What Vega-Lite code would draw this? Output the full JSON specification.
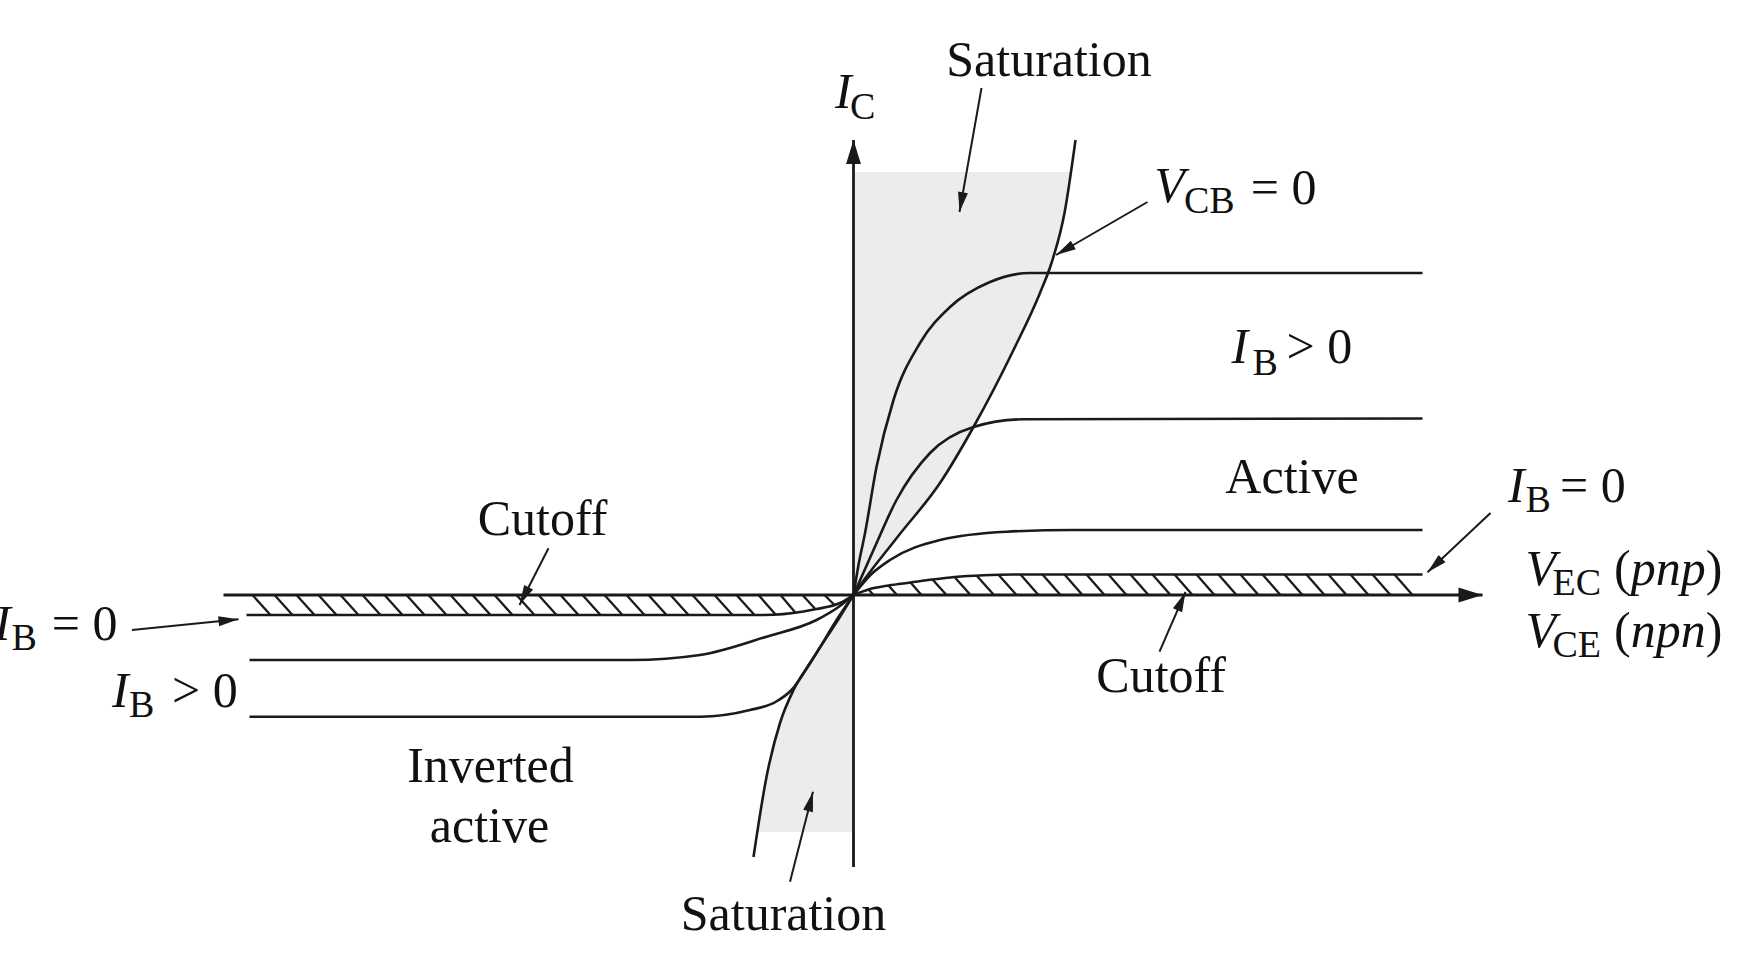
{
  "$schema": "https://vega.github.io/schema/vega-lite/v6.json",
  "width": 1754,
  "height": 962,
  "autosize": {"type": "none"},
  "padding": 0,
  "background": "white",
  "config": {"view": {"stroke": null}},
  "datasets": {
    "curves": [
      {"curve": "top", "x": 0, "y": 0}, {"curve": "top", "x": 0.05, "y": 0.3}, {"curve": "top", "x": 0.115, "y": 0.617}, {"curve": "top", "x": 0.23, "y": 1.28}, {"curve": "top", "x": 0.4, "y": 1.95}, {"curve": "top", "x": 0.665, "y": 2.52}, {"curve": "top", "x": 0.965, "y": 2.88}, {"curve": "top", "x": 1.365, "y": 3.13}, {"curve": "top", "x": 1.765, "y": 3.22}, {"curve": "top", "x": 5.69, "y": 3.22},
      {"curve": "mid", "x": 0, "y": 0}, {"curve": "mid", "x": 0.2, "y": 0.45}, {"curve": "mid", "x": 0.43, "y": 0.95}, {"curve": "mid", "x": 0.765, "y": 1.42}, {"curve": "mid", "x": 1.2, "y": 1.68}, {"curve": "mid", "x": 1.7, "y": 1.757}, {"curve": "mid", "x": 5.69, "y": 1.765},
      {"curve": "low", "x": 0, "y": 0}, {"curve": "low", "x": 0.17, "y": 0.2}, {"curve": "low", "x": 0.365, "y": 0.35}, {"curve": "low", "x": 0.865, "y": 0.55}, {"curve": "low", "x": 1.53, "y": 0.633}, {"curve": "low", "x": 2.2, "y": 0.65}, {"curve": "low", "x": 5.69, "y": 0.65},
      {"curve": "ib0r", "x": 0, "y": 0}, {"curve": "ib0r", "x": 0.15, "y": 0.055}, {"curve": "ib0r", "x": 0.35, "y": 0.095}, {"curve": "ib0r", "x": 0.57, "y": 0.125}, {"curve": "ib0r", "x": 0.79, "y": 0.155}, {"curve": "ib0r", "x": 1.01, "y": 0.18}, {"curve": "ib0r", "x": 1.3, "y": 0.198}, {"curve": "ib0r", "x": 1.6, "y": 0.205}, {"curve": "ib0r", "x": 5.69, "y": 0.205},
      {"curve": "sat", "x": -1.0, "y": -2.62}, {"curve": "sat", "x": -0.87, "y": -1.82}, {"curve": "sat", "x": -0.735, "y": -1.28}, {"curve": "sat", "x": -0.6, "y": -0.95}, {"curve": "sat", "x": -0.435, "y": -0.68}, {"curve": "sat", "x": -0.135, "y": -0.217}, {"curve": "sat", "x": 0, "y": 0}, {"curve": "sat", "x": 0.44, "y": 0.58}, {"curve": "sat", "x": 0.865, "y": 1.12}, {"curve": "sat", "x": 1.2, "y": 1.68}, {"curve": "sat", "x": 1.6, "y": 2.45}, {"curve": "sat", "x": 1.865, "y": 3.02}, {"curve": "sat", "x": 1.98, "y": 3.32}, {"curve": "sat", "x": 2.11, "y": 3.82}, {"curve": "sat", "x": 2.22, "y": 4.55},
      {"curve": "ib0l", "x": -6.07, "y": -0.2}, {"curve": "ib0l", "x": -0.9, "y": -0.2}, {"curve": "ib0l", "x": -0.5, "y": -0.165}, {"curve": "ib0l", "x": -0.37, "y": -0.14}, {"curve": "ib0l", "x": -0.135, "y": -0.08}, {"curve": "ib0l", "x": 0, "y": 0},
      {"curve": "upL", "x": -6.04, "y": -0.65}, {"curve": "upL", "x": -2.22, "y": -0.65}, {"curve": "upL", "x": -1.535, "y": -0.6}, {"curve": "upL", "x": -0.87, "y": -0.417}, {"curve": "upL", "x": -0.37, "y": -0.25}, {"curve": "upL", "x": -0.15, "y": -0.12}, {"curve": "upL", "x": 0, "y": 0},
      {"curve": "lowL", "x": -6.04, "y": -1.217}, {"curve": "lowL", "x": -1.535, "y": -1.217}, {"curve": "lowL", "x": -1.035, "y": -1.15}, {"curve": "lowL", "x": -0.78, "y": -1.07}, {"curve": "lowL", "x": -0.62, "y": -0.95}, {"curve": "lowL", "x": -0.42, "y": -0.66}, {"curve": "lowL", "x": -0.15, "y": -0.22}, {"curve": "lowL", "x": 0, "y": 0}
    ],
    "shade": [
      {"region": "q1", "y": 0, "x": 0}, {"region": "q1", "y": 0.58, "x": 0.44}, {"region": "q1", "y": 1.12, "x": 0.865}, {"region": "q1", "y": 1.68, "x": 1.2}, {"region": "q1", "y": 2.45, "x": 1.6}, {"region": "q1", "y": 3.02, "x": 1.865}, {"region": "q1", "y": 3.32, "x": 1.98}, {"region": "q1", "y": 3.82, "x": 2.11}, {"region": "q1", "y": 4.23, "x": 2.17},
      {"region": "q3", "y": 0, "x": 0}, {"region": "q3", "y": -0.217, "x": -0.135}, {"region": "q3", "y": -0.68, "x": -0.435}, {"region": "q3", "y": -0.95, "x": -0.6}, {"region": "q3", "y": -1.28, "x": -0.735}, {"region": "q3", "y": -1.82, "x": -0.87}, {"region": "q3", "y": -2.37, "x": -0.965}
    ],
    "hatch": [
      {"x": 0.15, "y": 0.055, "x2": 0.2, "y2": 0}, {"x": 0.35, "y": 0.095, "x2": 0.435, "y2": 0}, {"x": 0.57, "y": 0.125, "x2": 0.68, "y2": 0}, {"x": 0.79, "y": 0.155, "x2": 0.93, "y2": 0}, {"x": 1.01, "y": 0.18, "x2": 1.17, "y2": 0}, {"x": 1.23, "y": 0.195, "x2": 1.405, "y2": 0},
      {"x": 1.45, "y": 0.203, "x2": 1.63, "y2": 0}, {"x": 1.67, "y": 0.205, "x2": 1.85, "y2": 0}, {"x": 1.89, "y": 0.205, "x2": 2.07, "y2": 0}, {"x": 2.11, "y": 0.205, "x2": 2.29, "y2": 0}, {"x": 2.33, "y": 0.205, "x2": 2.51, "y2": 0}, {"x": 2.55, "y": 0.205, "x2": 2.73, "y2": 0}, {"x": 2.77, "y": 0.205, "x2": 2.95, "y2": 0}, {"x": 2.99, "y": 0.205, "x2": 3.17, "y2": 0}, {"x": 3.21, "y": 0.205, "x2": 3.39, "y2": 0}, {"x": 3.43, "y": 0.205, "x2": 3.61, "y2": 0}, {"x": 3.65, "y": 0.205, "x2": 3.83, "y2": 0}, {"x": 3.87, "y": 0.205, "x2": 4.05, "y2": 0}, {"x": 4.09, "y": 0.205, "x2": 4.27, "y2": 0}, {"x": 4.31, "y": 0.205, "x2": 4.49, "y2": 0}, {"x": 4.53, "y": 0.205, "x2": 4.71, "y2": 0}, {"x": 4.75, "y": 0.205, "x2": 4.93, "y2": 0}, {"x": 4.97, "y": 0.205, "x2": 5.15, "y2": 0}, {"x": 5.19, "y": 0.205, "x2": 5.37, "y2": 0}, {"x": 5.41, "y": 0.205, "x2": 5.59, "y2": 0},
      {"x": -6.01, "y": 0, "x2": -5.83, "y2": -0.2}, {"x": -5.79, "y": 0, "x2": -5.61, "y2": -0.2}, {"x": -5.57, "y": 0, "x2": -5.39, "y2": -0.2}, {"x": -5.35, "y": 0, "x2": -5.17, "y2": -0.2}, {"x": -5.13, "y": 0, "x2": -4.95, "y2": -0.2}, {"x": -4.91, "y": 0, "x2": -4.73, "y2": -0.2}, {"x": -4.69, "y": 0, "x2": -4.51, "y2": -0.2}, {"x": -4.47, "y": 0, "x2": -4.29, "y2": -0.2}, {"x": -4.25, "y": 0, "x2": -4.07, "y2": -0.2}, {"x": -4.03, "y": 0, "x2": -3.85, "y2": -0.2}, {"x": -3.81, "y": 0, "x2": -3.63, "y2": -0.2}, {"x": -3.59, "y": 0, "x2": -3.41, "y2": -0.2}, {"x": -3.37, "y": 0, "x2": -3.19, "y2": -0.2}, {"x": -3.15, "y": 0, "x2": -2.97, "y2": -0.2}, {"x": -2.93, "y": 0, "x2": -2.75, "y2": -0.2}, {"x": -2.71, "y": 0, "x2": -2.53, "y2": -0.2}, {"x": -2.49, "y": 0, "x2": -2.31, "y2": -0.2}, {"x": -2.27, "y": 0, "x2": -2.09, "y2": -0.2}, {"x": -2.05, "y": 0, "x2": -1.87, "y2": -0.2}, {"x": -1.83, "y": 0, "x2": -1.65, "y2": -0.2}, {"x": -1.61, "y": 0, "x2": -1.43, "y2": -0.2}, {"x": -1.39, "y": 0, "x2": -1.21, "y2": -0.2}, {"x": -1.17, "y": 0, "x2": -0.99, "y2": -0.2},
      {"x": -0.95, "y": 0, "x2": -0.78, "y2": -0.195}, {"x": -0.73, "y": 0, "x2": -0.58, "y2": -0.178}, {"x": -0.51, "y": 0, "x2": -0.38, "y2": -0.142}, {"x": -0.29, "y": 0, "x2": -0.19, "y2": -0.1}
    ],
    "axes": [
      {"x": -6.3, "y": 0, "x2": 6.29, "y2": 0},
      {"x": 0, "y": -2.72, "x2": 0, "y2": 4.55}
    ],
    "pointers": [
      {"x": 1.28, "y": 5.07, "x2": 1.06, "y2": 3.83},
      {"x": 2.94, "y": 3.93, "x2": 2.025, "y2": 3.4},
      {"x": 6.37, "y": 0.82, "x2": 5.74, "y2": 0.227},
      {"x": 3.06, "y": -0.567, "x2": 3.32, "y2": 0.03},
      {"x": -3.05, "y": 0.467, "x2": -3.34, "y2": -0.1},
      {"x": -7.215, "y": -0.35, "x2": -6.15, "y2": -0.243},
      {"x": -0.635, "y": -2.867, "x2": -0.405, "y2": -1.967}
    ],
    "labels": [
      {"text": "Saturation", "x": 1.955, "y": 5.19},
      {"text": "Active", "x": 4.385, "y": 1.017},
      {"text": "Cutoff", "x": -3.11, "y": 0.6},
      {"text": "Cutoff", "x": 3.076, "y": -0.974},
      {"text": "Inverted", "x": -3.63, "y": -1.867},
      {"text": "active", "x": -3.64, "y": -2.467},
      {"text": "Saturation", "x": -0.7, "y": -3.35}
    ],
    "italics": [
      {"text": "I", "x": -0.185, "y": 4.867},
      {"text": "V", "x": 3.008, "y": 3.933},
      {"text": "I", "x": 3.78, "y": 2.317},
      {"text": "I", "x": 6.545, "y": 0.933},
      {"text": "V", "x": 6.72, "y": 0.1},
      {"text": "V", "x": 6.72, "y": -0.517},
      {"text": "I", "x": -8.595, "y": -0.45},
      {"text": "I", "x": -7.415, "y": -1.117},
      {"text": "pnp", "x": 7.772, "y": 0.1},
      {"text": "npn", "x": 7.772, "y": -0.517}
    ],
    "subs": [
      {"text": "C", "x": -0.035, "y": 4.757},
      {"text": "CB", "x": 3.305, "y": 3.817},
      {"text": "B", "x": 3.99, "y": 2.2},
      {"text": "B", "x": 6.72, "y": 0.833},
      {"text": "EC", "x": 6.99, "y": 0.0},
      {"text": "CE", "x": 6.99, "y": -0.617},
      {"text": "B", "x": -8.42, "y": -0.55},
      {"text": "B", "x": -7.245, "y": -1.217}
    ],
    "rels": [
      {"text": "= 0", "x": 3.973, "y": 3.91},
      {"text": "> 0", "x": 4.33, "y": 2.317},
      {"text": "= 0", "x": 7.065, "y": 0.933},
      {"text": "= 0", "x": -8.018, "y": -0.45},
      {"text": "> 0", "x": -6.815, "y": -1.117},
      {"text": "(", "x": 7.605, "y": 0.1},
      {"text": ")", "x": 8.522, "y": 0.1},
      {"text": "(", "x": 7.605, "y": -0.517},
      {"text": ")", "x": 8.522, "y": -0.517}
    ]
  },
  "layer": [
    {
      "data": {"name": "shade"},
      "mark": {"type": "area", "orient": "horizontal", "interpolate": "monotone", "color": "#ececec"},
      "encoding": {
        "y": {"field": "y", "type": "quantitative", "scale": {"domain": [-3.67, 5.95], "nice": false, "zero": false}, "axis": null},
        "x": {"field": "x", "type": "quantitative", "stack": null, "scale": {"domain": [-8.535, 9.005], "nice": false, "zero": false}, "axis": null},
        "x2": {"datum": 0},
        "detail": {"field": "region"}
      }
    },
    {
      "data": {"name": "hatch"},
      "mark": {"type": "rule", "color": "#1a1a1a", "strokeWidth": 2.3},
      "encoding": {
        "x": {"field": "x", "type": "quantitative", "scale": {"domain": [-8.535, 9.005], "nice": false, "zero": false}, "axis": null},
        "y": {"field": "y", "type": "quantitative", "scale": {"domain": [-3.67, 5.95], "nice": false, "zero": false}, "axis": null},
        "x2": {"field": "x2"},
        "y2": {"field": "y2"}
      }
    },
    {
      "data": {"name": "curves"},
      "mark": {"type": "line", "interpolate": "monotone", "color": "#1a1a1a", "strokeWidth": 2.6},
      "encoding": {
        "x": {"field": "x", "type": "quantitative", "scale": {"domain": [-8.535, 9.005], "nice": false, "zero": false}, "axis": null},
        "y": {"field": "y", "type": "quantitative", "scale": {"domain": [-3.67, 5.95], "nice": false, "zero": false}, "axis": null},
        "detail": {"field": "curve"}
      }
    },
    {
      "data": {"name": "axes"},
      "mark": {"type": "rule", "color": "#1a1a1a", "strokeWidth": 2.8},
      "encoding": {
        "x": {"field": "x", "type": "quantitative", "scale": {"domain": [-8.535, 9.005], "nice": false, "zero": false}, "axis": null},
        "y": {"field": "y", "type": "quantitative", "scale": {"domain": [-3.67, 5.95], "nice": false, "zero": false}, "axis": null},
        "x2": {"field": "x2"},
        "y2": {"field": "y2"}
      }
    },
    {
      "data": {"name": "axes"},
      "transform": [{"calculate": "atan2(datum.x2 - datum.x, datum.y2 - datum.y) * 180 / PI", "as": "angle"}],
      "mark": {"type": "point", "shape": "M0,0L0.62,2L-0.62,2Z", "filled": true, "size": 576, "color": "#1a1a1a", "opacity": 1, "strokeWidth": 0},
      "encoding": {
        "x": {"field": "x2", "type": "quantitative", "scale": {"domain": [-8.535, 9.005], "nice": false, "zero": false}, "axis": null},
        "y": {"field": "y2", "type": "quantitative", "scale": {"domain": [-3.67, 5.95], "nice": false, "zero": false}, "axis": null},
        "angle": {"field": "angle", "type": "quantitative", "scale": null}
      }
    },
    {
      "data": {"name": "pointers"},
      "mark": {"type": "rule", "color": "#1a1a1a", "strokeWidth": 2},
      "encoding": {
        "x": {"field": "x", "type": "quantitative", "scale": {"domain": [-8.535, 9.005], "nice": false, "zero": false}, "axis": null},
        "y": {"field": "y", "type": "quantitative", "scale": {"domain": [-3.67, 5.95], "nice": false, "zero": false}, "axis": null},
        "x2": {"field": "x2"},
        "y2": {"field": "y2"}
      }
    },
    {
      "data": {"name": "pointers"},
      "transform": [{"calculate": "atan2(datum.x2 - datum.x, datum.y2 - datum.y) * 180 / PI", "as": "angle"}],
      "mark": {"type": "point", "shape": "M0,0L0.5,2L-0.5,2Z", "filled": true, "size": 400, "color": "#1a1a1a", "opacity": 1, "strokeWidth": 0},
      "encoding": {
        "x": {"field": "x2", "type": "quantitative", "scale": {"domain": [-8.535, 9.005], "nice": false, "zero": false}, "axis": null},
        "y": {"field": "y2", "type": "quantitative", "scale": {"domain": [-3.67, 5.95], "nice": false, "zero": false}, "axis": null},
        "angle": {"field": "angle", "type": "quantitative", "scale": null}
      }
    },
    {
      "data": {"name": "labels"},
      "mark": {"type": "text", "font": "Liberation Serif", "fontSize": 50, "align": "center", "baseline": "alphabetic", "color": "#111111"},
      "encoding": {
        "x": {"field": "x", "type": "quantitative", "scale": {"domain": [-8.535, 9.005], "nice": false, "zero": false}, "axis": null},
        "y": {"field": "y", "type": "quantitative", "scale": {"domain": [-3.67, 5.95], "nice": false, "zero": false}, "axis": null},
        "text": {"field": "text"}
      }
    },
    {
      "data": {"name": "italics"},
      "mark": {"type": "text", "font": "Liberation Serif", "fontSize": 50, "fontStyle": "italic", "align": "left", "baseline": "alphabetic", "color": "#111111"},
      "encoding": {
        "x": {"field": "x", "type": "quantitative", "scale": {"domain": [-8.535, 9.005], "nice": false, "zero": false}, "axis": null},
        "y": {"field": "y", "type": "quantitative", "scale": {"domain": [-3.67, 5.95], "nice": false, "zero": false}, "axis": null},
        "text": {"field": "text"}
      }
    },
    {
      "data": {"name": "subs"},
      "mark": {"type": "text", "font": "Liberation Serif", "fontSize": 38, "align": "left", "baseline": "alphabetic", "color": "#111111"},
      "encoding": {
        "x": {"field": "x", "type": "quantitative", "scale": {"domain": [-8.535, 9.005], "nice": false, "zero": false}, "axis": null},
        "y": {"field": "y", "type": "quantitative", "scale": {"domain": [-3.67, 5.95], "nice": false, "zero": false}, "axis": null},
        "text": {"field": "text"}
      }
    },
    {
      "data": {"name": "rels"},
      "mark": {"type": "text", "font": "Liberation Serif", "fontSize": 50, "align": "left", "baseline": "alphabetic", "color": "#111111"},
      "encoding": {
        "x": {"field": "x", "type": "quantitative", "scale": {"domain": [-8.535, 9.005], "nice": false, "zero": false}, "axis": null},
        "y": {"field": "y", "type": "quantitative", "scale": {"domain": [-3.67, 5.95], "nice": false, "zero": false}, "axis": null},
        "text": {"field": "text"}
      }
    }
  ]
}
